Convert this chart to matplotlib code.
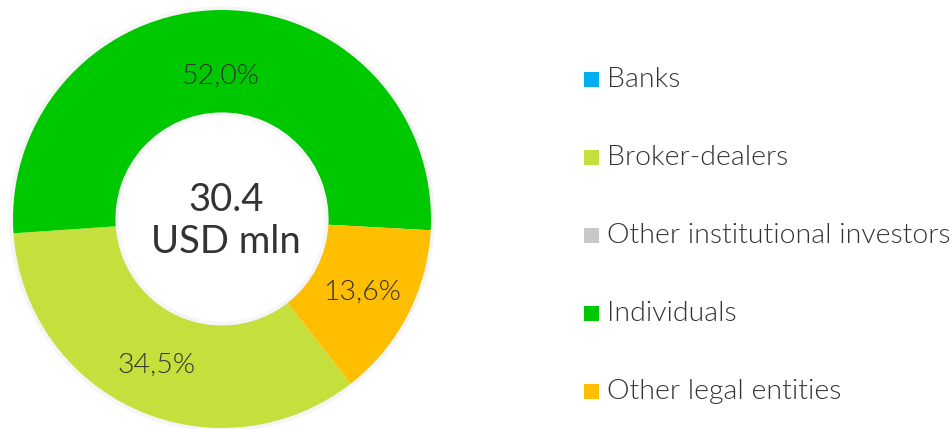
import numpy as np
import matplotlib
matplotlib.use("Agg")
import matplotlib.pyplot as plt
from matplotlib.patches import Circle, Rectangle

plt.rcParams['font.family'] = ['Lato', 'DejaVu Sans']

# Structure of holders
categories = ["Banks", "Broker-dealers", "Other institutional investors",
              "Individuals", "Other legal entities"]
shares = [0.0, 34.5, 0.0, 52.0, 13.6]
share_labels = ["", "34,5%", "", "52,0%", "13,6%"]
colors = ["#00AEEF", "#C5DF3D", "#C8C8C8", "#00C800", "#FFBE00"]
total_value = "30.4"
total_unit = "USD mln"

W, H = 951, 429
fig = plt.figure(figsize=(W / 100, H / 100), dpi=100)
ax = fig.add_axes([0, 0, 1, 1])

cx, cy = 222, H - 219
R = 209
ring = 0.49
r_in = R * (1 - ring)

# soft outer shadow
for i in range(6):
    ax.add_patch(Circle((cx, cy), R + 0.7 * i, fill=False, edgecolor='black',
                        lw=1.0, alpha=0.018, zorder=1))

wedges, _ = ax.pie(shares, colors=colors, radius=R, center=(cx, cy),
                   startangle=-52, counterclock=False,
                   wedgeprops=dict(width=R * ring, linewidth=0),
                   frame=True)
for w in wedges:
    w.set_zorder(2)

# soft inner shadow inside the hole
for i in range(6):
    ax.add_patch(Circle((cx, cy), r_in - 0.7 * i, fill=False, edgecolor='black',
                        lw=1.0, alpha=0.018, zorder=3))

ax.set_xlim(0, W)
ax.set_ylim(0, H)
ax.set_aspect('equal')
ax.axis('off')

# percentage labels at the middle of each wedge
label_radius = {1: 0.767, 3: 0.685, 4: 0.757}
for i, w in enumerate(wedges):
    if not share_labels[i]:
        continue
    mid = np.deg2rad((w.theta1 + w.theta2) / 2)
    rr = R * label_radius[i]
    ax.text(cx + rr * np.cos(mid), cy + rr * np.sin(mid), share_labels[i],
            ha='center', va='center', fontsize=20.5, fontweight=300,
            color='#333333', zorder=5)

# total in the centre
ax.text(cx + 4, H - 211, total_value, ha='center', va='baseline',
        fontsize=27.5, color='#333333', zorder=5)
ax.text(cx + 4, H - 253, total_unit, ha='center', va='baseline',
        fontsize=27.5, color='#333333', zorder=5)

# legend
for i, (name, c) in enumerate(zip(categories, colors)):
    yc = H - (79.5 + 78 * i)
    ax.add_patch(Rectangle((584, yc - 7.5), 15, 15, facecolor=c,
                           edgecolor='none', zorder=5))
    ax.text(607, yc - 7.5, name, ha='left', va='baseline', fontsize=20.5,
            fontweight=300, color='#333333', zorder=5)

fig.savefig("out.png", dpi=100, facecolor='white')
